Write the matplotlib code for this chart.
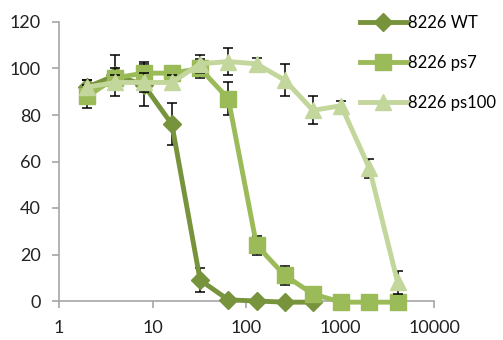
import numpy as np
import matplotlib.pyplot as plt
from matplotlib.ticker import FixedLocator, FixedFormatter, NullLocator

plt.rcParams['font.family'] = ['Lato', 'DejaVu Sans']

# concentrations (2-fold dilution series)
conc = [2, 4, 8, 16, 32, 64, 128, 256, 512, 1024, 2048, 4096]

wt_conc = conc[:9]
wt_mean = [92, 97, 93, 76, 9, 0.5, 0, -0.5, -0.5]
wt_err = [3, 9, 9, 9, 5, 1, 0.5, 0.5, 0.5]

ps7_mean = [88, 96, 98, 98, 100, 87, 24, 11, 3, -0.5, -0.5, -0.5]
ps7_err = [5, 4, 5, 3, 4, 7, 4, 4, 1, 0.5, 0.5, 0.5]

ps100_mean = [92, 94, 94, 94, 102, 103, 102, 95, 82, 84, 57, 8]
ps100_err = [3, 3, 4, 3, 4, 6, 2.5, 7, 6, 2, 4, 5]

labels = ['8226 WT', '8226 ps7', '8226 ps100']
colors = ['#77933C', '#9BBB59', '#C3D69B']
markers = ['D', 's', '^']
msizes = [9, 11, 11]

fig = plt.figure(figsize=(5.03, 3.40), dpi=100)
ax = fig.add_axes([59 / 503, 1 - 301 / 340, (434 - 59) / 503, (301 - 22) / 340])

series = [(wt_conc, wt_mean, wt_err), (conc, ps7_mean, ps7_err), (conc, ps100_mean, ps100_err)]
for i, (x, y, e) in enumerate(series):
    z = 3 + i * 2
    # error bars sit just under their own series so markers cover the middle
    ax.errorbar(x, y, yerr=e, fmt='none', ecolor='black', elinewidth=1.1,
                capsize=3.5, capthick=1.1, zorder=z - 0.5, clip_on=False)
    ax.plot(x, y, color=colors[i], lw=3.5, marker=markers[i], ms=msizes[i],
            mec=colors[i], mfc=colors[i], label=labels[i], zorder=z, clip_on=False)

ax.set_xscale('log')
ax.set_xlim(1, 10000)
ax.set_ylim(0, 120)
ax.xaxis.set_major_locator(FixedLocator([1, 10, 100, 1000, 10000]))
ax.xaxis.set_major_formatter(FixedFormatter(['1', '10', '100', '1000', '10000']))
ax.xaxis.set_minor_locator(NullLocator())
ax.set_yticks(np.arange(0, 121, 20))

for side in ['top', 'right']:
    ax.spines[side].set_visible(False)
for side in ['left', 'bottom']:
    ax.spines[side].set_color('#A6A6A6')
    ax.spines[side].set_linewidth(1.2)
ax.tick_params(axis='both', colors='#A6A6A6', length=5, width=1.2, direction='out',
               labelsize=13, labelcolor='#222222', pad=8)
ax.tick_params(axis='x', pad=9)

fig.legend(loc='upper left', bbox_to_anchor=(360 / 503, 1 - 15 / 340), frameon=False,
           fontsize=12, handlelength=2.8, handletextpad=0.1, labelspacing=1.45,
           borderpad=0, borderaxespad=0)

fig.savefig('out.png', dpi=100)
